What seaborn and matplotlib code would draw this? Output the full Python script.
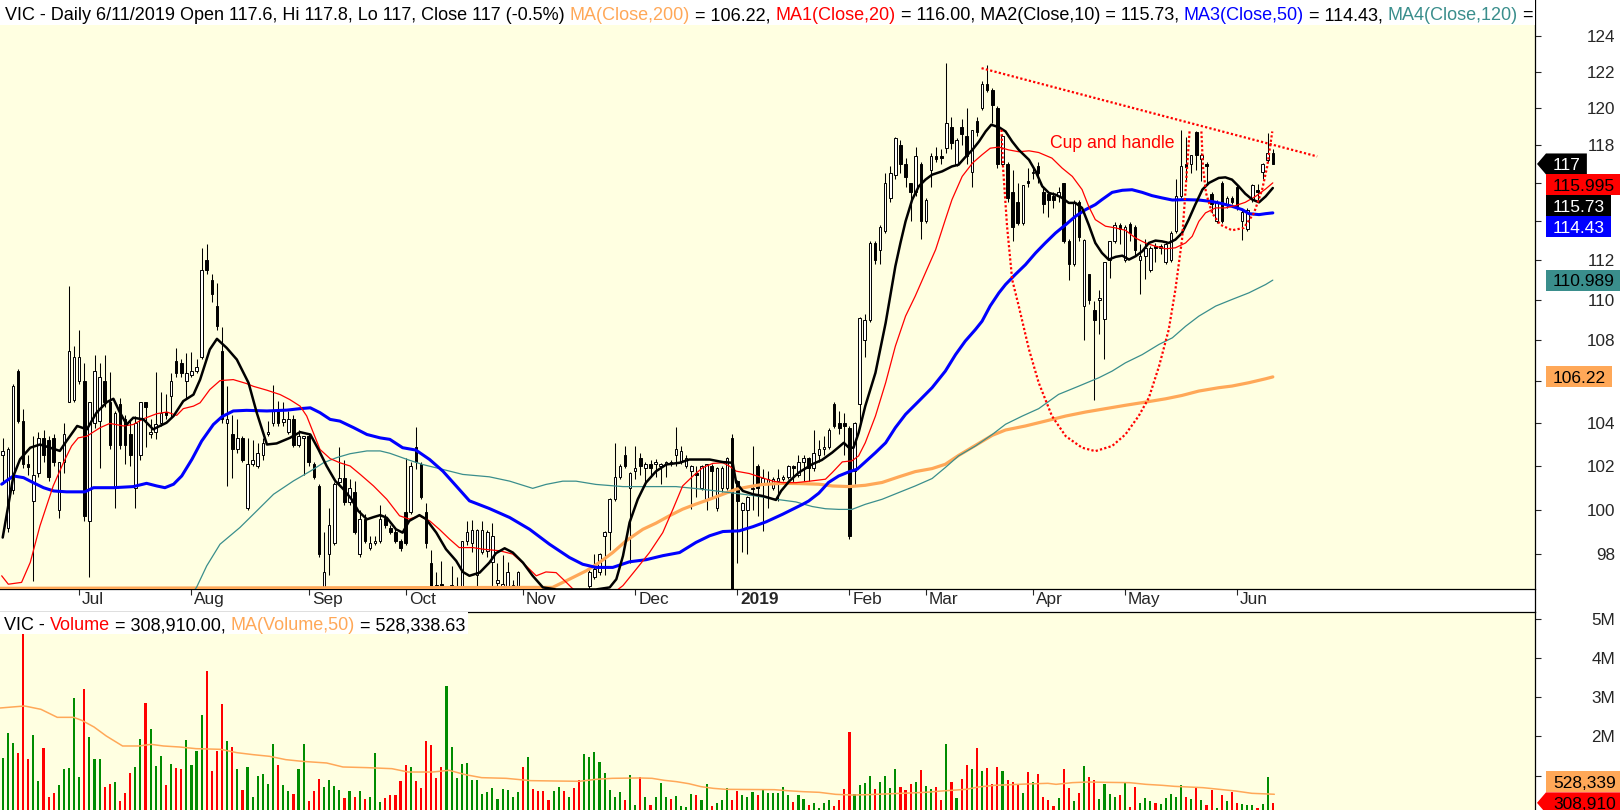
import numpy as np
import pandas as pd
import seaborn as sns
import matplotlib.pyplot as plt
from matplotlib.patches import Rectangle, Polygon
from matplotlib.lines import Line2D
from matplotlib.ticker import NullLocator, NullFormatter
import matplotlib.transforms as mtransforms

sns.set_style('white')
plt.rcParams['font.family'] = ['Liberation Sans', 'DejaVu Sans']

# ---------------- data (VIC daily, Jun 2018 - Jun 11 2019) ----------------
opens = [
    102.5, 99.2, 100.9, 106.5, 104.1, 102.1, 100.4, 101.7, 103.3, 103.2,
    103.3, 100.0, 102.2, 105.0, 105.1, 106.0, 106.0, 99.5, 104.0, 104.1,
    106.0, 105.0, 101.0, 104.9, 104.2, 103.5, 101.0, 102.5, 105.0, 103.5,
    103.6, 104.0, 104.55, 105.3, 107.0, 106.9, 106.0, 106.3, 106.5, 107.2,
    112.0, 111.0, 109.7, 107.5, 104.0, 103.5, 102.8, 103.3, 100.1, 102.1,
    102.0, 102.5, 103.5, 104.0, 104.6, 104.05, 103.6, 104.2, 103.0, 103.3,
    103.4, 102.1, 101.1, 96.5, 98.0, 98.5, 101.25, 101.45, 100.35, 100.8,
    98.0, 99.6, 98.3, 98.5, 98.6, 99.65, 99.2, 99.0, 98.6, 99.9,
    99.9, 102.9, 102.1, 99.9, 97.6, 96.65, 96.7, 96.2, 96.6, 96.55,
    96.6, 98.6, 98.5, 97.1, 98.1, 98.15, 97.65, 96.75, 96.6, 96.6,
    96.5, 96.6, 96.2, 95.6, 96.0, 95.5, 95.3, 95.0, 94.8, 95.0,
    95.4, 95.1, 95.3, 95.0, 94.8, 96.6, 97.0, 97.2, 98.8, 99.0,
    100.5, 101.5, 102.5, 101.0, 101.8, 102.4, 101.9, 102.1, 102.1, 102.0,
    102.1, 102.2, 102.5, 102.25, 102.0, 101.8, 101.7, 101.0, 100.5, 102.0,
    100.1, 101.0, 101.0, 103.3, 101.3, 100.0, 100.0, 100.95, 102.0, 101.2,
    101.2, 101.0, 101.3, 101.4, 101.5, 102.0, 101.6, 102.2, 102.4, 101.9,
    102.5, 102.8, 102.9, 104.9, 104.0, 104.0, 103.8, 101.8, 104.9, 108.0,
    109.0, 112.9, 112.5, 113.5, 115.2, 116.4, 118.0, 117.0, 116.0, 115.5,
    117.0, 114.0, 116.7, 117.4, 117.4, 117.85, 119.0, 117.0, 119.0, 118.5,
    116.6, 119.3, 120.0, 121.3, 121.0, 120.0, 117.0, 117.0, 115.5, 115.0,
    113.9, 116.1, 116.5, 116.9, 115.5, 115.4, 115.3, 115.3, 116.0, 113.0,
    111.8, 115.0, 109.7, 111.3, 109.5, 110.0, 109.05, 112.0, 113.0, 113.8,
    112.0, 113.85, 113.7, 112.0, 112.2, 111.5, 112.7, 112.6, 111.9, 112.0,
    113.5, 115.3, 117.0, 117.0, 118.7, 117.25, 117.0, 115.4, 114.0, 116.0,
    114.9, 115.2, 115.8, 114.0, 113.6, 115.15, 115.6, 116.6, 117.2, 117.6]
highs = [
    103.3, 102.9, 105.9, 106.6, 104.7, 102.5, 103.4, 103.6, 103.7, 103.4,
    103.5, 102.2, 104.0, 110.7, 107.7, 108.5, 106.9, 105.0, 107.3, 106.9,
    107.3, 106.45, 104.6, 105.2, 104.4, 104.2, 104.35, 105.0, 105.0, 104.2,
    106.45, 105.5, 105.4, 106.4, 107.6, 107.1, 107.4, 107.45, 107.1, 112.6,
    112.8, 111.3, 110.85, 108.66, 105.8, 104.4, 104.2, 103.4, 103.3, 103.2,
    103.1, 103.3, 104.1, 105.85, 105.05, 105.0, 104.6, 104.4, 103.7, 103.4,
    103.5, 102.2, 101.2, 99.0, 100.1, 101.25, 102.9, 102.3, 101.4, 101.3,
    100.0, 99.8, 98.8, 98.8, 100.2, 99.8, 99.3, 99.2, 98.7, 102.4,
    102.2, 103.84, 102.2, 100.3, 98.2, 97.2, 97.7, 96.45, 97.5, 97.0,
    98.6, 99.5, 99.55, 99.15, 99.5, 99.1, 99.4, 97.6, 97.95, 97.65,
    96.85, 97.25, 96.4, 96.2, 96.1, 95.7, 95.5, 95.2, 95.3, 95.6,
    95.6, 95.5, 95.4, 95.2, 96.2, 97.3, 98.0, 98.05, 99.05, 100.55,
    103.1, 102.1, 102.95, 101.75, 102.95, 102.6, 102.2, 102.3, 102.35, 102.15,
    102.25, 102.3, 103.84, 102.95, 102.5, 102.05, 102.0, 102.05, 102.1, 102.1,
    101.95, 102.0, 102.45, 103.5, 101.35, 100.35, 100.65, 102.95, 102.1, 101.85,
    101.8, 101.5, 101.85, 101.6, 102.05, 102.05, 102.5, 102.5, 102.45, 103.7,
    103.2, 103.4, 103.8, 105.0, 104.6, 104.5, 103.9, 104.05, 109.15, 109.3,
    113.0, 113.0, 113.8, 116.5, 116.9, 118.45, 118.3, 117.3, 116.0, 117.9,
    117.1, 115.2, 117.6, 117.9, 117.8, 122.5, 119.5, 118.4, 119.4, 120.0,
    118.8, 119.5, 121.5, 122.4, 121.1, 120.1, 118.6, 117.1, 116.7, 116.0,
    115.9, 116.8, 116.8, 117.1, 115.8, 115.4, 115.5, 115.8, 116.0, 113.1,
    115.1, 115.1, 113.1, 111.3, 109.95, 110.5, 111.9, 113.0, 113.95, 113.9,
    113.8, 113.95, 113.8, 112.8, 113.1, 112.7, 112.9, 112.8, 113.0, 113.5,
    116.2, 118.8, 118.45, 117.5, 118.75, 117.6, 117.1, 115.5, 115.1, 116.1,
    115.3, 115.3, 115.9, 114.6, 114.7, 115.95, 115.95, 117.05, 118.65, 117.8]
lows = [
    101.2, 99.0, 100.7, 104.0, 101.9, 101.6, 96.8, 101.5, 102.2, 101.3,
    102.0, 99.65, 101.7, 105.0, 105.0, 105.9, 99.5, 97.0, 103.8, 101.9,
    104.8, 102.8, 100.1, 102.8, 102.1, 102.0, 100.1, 102.3, 102.9, 103.3,
    103.25, 103.9, 104.2, 104.3, 106.2, 106.2, 105.2, 106.2, 106.4, 107.1,
    111.3, 109.9, 108.5, 104.0, 101.1, 101.45, 102.6, 102.2, 100.0, 102.0,
    101.9, 102.3, 103.4, 103.9, 103.9, 103.9, 103.5, 102.9, 102.9, 101.6,
    102.0, 101.4, 97.9, 96.4, 97.1, 98.4, 101.2, 100.2, 100.2, 98.9,
    97.9, 98.5, 98.2, 98.4, 98.5, 99.2, 98.9, 98.5, 98.15, 98.4,
    99.8, 101.85, 100.5, 98.3, 96.5, 96.5, 96.4, 96.0, 96.4, 96.4,
    96.4, 98.4, 98.1, 96.6, 98.0, 97.9, 96.6, 96.5, 96.4, 96.4,
    96.4, 96.4, 95.6, 95.4, 95.3, 95.0, 94.8, 94.6, 94.6, 94.9,
    94.9, 95.0, 94.8, 94.5, 94.7, 96.4, 96.9, 97.1, 97.1, 98.2,
    100.4, 101.4, 101.9, 97.6, 101.4, 101.6, 101.1, 101.5, 101.5, 101.2,
    101.5, 102.0, 102.0, 102.1, 101.9, 100.05, 100.6, 100.9, 100.0, 100.6,
    99.95, 100.8, 100.9, 96.0, 97.6, 98.1, 98.0, 100.0, 99.7, 99.05,
    100.1, 100.9, 100.4, 101.3, 101.4, 101.2, 101.5, 101.3, 101.3, 101.8,
    102.2, 102.5, 102.8, 103.8, 103.5, 102.5, 98.7, 101.2, 104.0, 107.2,
    108.9, 111.8, 111.8, 113.4, 115.0, 116.2, 116.5, 115.8, 114.0, 115.3,
    113.1, 113.9, 115.8, 117.1, 117.0, 117.6, 117.8, 116.9, 118.0, 117.0,
    115.8, 118.5, 119.9, 120.9, 119.2, 116.8, 116.9, 115.0, 113.0, 113.8,
    113.8, 115.8, 116.2, 116.0, 114.4, 114.2, 114.7, 115.0, 112.9, 111.0,
    111.7, 113.0, 108.0, 109.8, 105.1, 108.3, 107.1, 111.1, 112.9, 112.8,
    111.9, 113.0, 112.2, 110.3, 111.05, 111.4, 111.9, 112.3, 111.8, 111.9,
    113.4, 115.2, 116.15, 116.5, 116.7, 116.1, 115.9, 114.4, 113.9, 113.9,
    114.7, 114.9, 114.6, 113.05, 113.5, 115.0, 115.1, 116.2, 117.1, 117.0]
closes = [
    102.7, 102.8, 105.8, 104.1, 102.1, 101.95, 101.6, 103.3, 102.5, 101.5,
    102.2, 102.2, 103.5, 107.5, 107.2, 107.2, 99.7, 105.0, 106.5, 106.2,
    105.0, 103.0, 104.5, 103.0, 103.0, 102.5, 104.0, 105.0, 104.8, 103.6,
    103.95, 104.5, 104.4, 106.0, 106.4, 106.4, 106.4, 106.5, 106.7, 111.5,
    111.5, 110.3, 108.7, 104.2, 104.2, 102.8, 103.3, 102.3, 102.1, 102.3,
    102.6, 103.1, 103.6, 104.6, 104.0, 104.2, 104.2, 103.0, 103.4, 103.4,
    102.2, 101.5, 98.0, 97.2, 99.3, 101.2, 101.45, 100.35, 101.0, 99.0,
    99.6, 98.6, 98.5, 98.6, 99.6, 99.3, 99.0, 98.6, 98.3, 98.5,
    102.0, 102.2, 100.6, 98.5, 96.6, 96.6, 96.6, 96.35, 96.65, 96.6,
    98.6, 99.0, 99.1, 99.1, 99.1, 99.0, 98.8, 96.85, 96.7, 97.2,
    96.65, 97.2, 95.8, 96.0, 95.5, 95.2, 95.0, 94.8, 95.1, 95.4,
    95.1, 95.3, 95.0, 94.7, 96.0, 97.2, 97.35, 98.0, 99.0, 100.5,
    101.5, 102.0, 102.0, 101.7, 101.9, 102.0, 102.1, 101.9, 102.2, 102.1,
    102.2, 102.15, 102.8, 102.7, 102.4, 102.0, 101.6, 102.0, 102.1, 101.8,
    101.9, 101.9, 102.4, 96.3, 100.4, 100.3, 100.6, 101.0, 101.0, 101.45,
    101.4, 101.4, 101.45, 101.5, 102.0, 101.9, 102.2, 102.4, 101.9, 102.6,
    102.8, 102.9, 103.7, 103.9, 103.8, 103.9, 98.8, 104.0, 109.1, 109.0,
    112.9, 112.0, 113.7, 116.0, 116.5, 118.4, 117.0, 116.3, 115.5, 117.4,
    114.0, 115.1, 117.4, 117.25, 117.3, 119.2, 118.1, 118.3, 118.6, 117.4,
    118.8, 118.7, 121.3, 121.0, 120.2, 117.0, 118.5, 115.2, 113.7, 113.9,
    115.9, 116.0, 116.6, 116.5, 114.9, 115.1, 115.1, 115.5, 113.0, 111.8,
    115.0, 113.2, 113.05, 110.0, 109.0, 110.1, 111.9, 113.0, 113.8, 113.6,
    113.7, 113.4, 112.5, 112.2, 112.6, 112.6, 112.6, 112.7, 112.85, 113.4,
    115.3, 116.9, 116.85, 117.5, 117.5, 117.5, 116.9, 114.9, 115.0, 114.0,
    115.2, 115.0, 114.8, 114.5, 114.6, 115.9, 115.5, 117.0, 117.6, 117.0]
volume_m = [
    1.452, 2.089, 1.834, 1.579, 4.620, 1.435, 2.030, 0.866, 1.707, 0.458,
    0.560, 0.764, 1.180, 1.206, 2.981, 0.977, 3.210, 1.987, 1.427, 1.427,
    0.713, 0.790, 0.841, 0.356, 0.560, 1.070, 1.231, 1.936, 2.853, 2.191,
    1.248, 1.503, 0.764, 1.299, 1.197, 1.180, 1.911, 1.274, 1.639, 2.548,
    3.669, 1.121, 1.630, 2.828, 1.885, 1.732, 1.172, 0.637, 1.214, 0.458,
    0.993, 1.044, 0.790, 1.809, 1.274, 0.764, 0.611, 0.535, 1.172, 1.809,
    0.356, 0.611, 0.917, 0.713, 0.892, 0.739, 0.637, 0.433, 0.611, 0.458,
    0.611, 0.407, 0.458, 1.579, 0.331, 0.433, 0.509, 0.509, 0.866, 1.274,
    1.223, 0.866, 0.688, 1.885, 1.783, 0.951, 1.223, 3.287, 1.732, 0.942,
    1.299, 1.325, 0.900, 0.900, 0.535, 0.586, 0.688, 0.407, 0.662, 0.637,
    0.458, 0.586, 1.223, 1.478, 0.662, 0.611, 0.611, 0.382, 0.611, 0.713,
    0.611, 0.458, 0.688, 0.892, 1.554, 1.478, 1.605, 1.350, 1.070, 0.637,
    0.458, 0.586, 0.382, 1.019, 0.255, 0.968, 0.458, 0.255, 0.458, 0.815,
    0.458, 0.407, 0.484, 0.229, 0.204, 0.535, 0.509, 0.382, 0.790, 0.229,
    0.306, 0.382, 0.688, 0.382, 0.611, 0.509, 0.458, 0.586, 0.509, 0.662,
    0.560, 0.560, 0.560, 0.713, 0.509, 0.331, 0.509, 0.407, 0.255, 0.306,
    0.178, 0.306, 0.382, 0.229, 0.382, 0.662, 2.115, 0.535, 0.764, 0.815,
    0.993, 0.662, 0.841, 0.993, 0.688, 1.172, 0.713, 0.637, 0.790, 0.841,
    1.146, 0.739, 0.662, 0.713, 0.382, 1.809, 0.841, 0.433, 0.917, 1.274,
    1.172, 1.707, 1.121, 1.197, 0.790, 1.223, 1.121, 0.892, 0.841, 0.764,
    0.560, 1.095, 0.841, 1.044, 0.458, 0.382, 0.229, 0.433, 1.172, 0.688,
    0.356, 0.560, 1.248, 0.968, 0.892, 0.407, 0.790, 0.535, 0.458, 0.509,
    0.841, 0.204, 0.713, 0.306, 0.433, 0.356, 0.306, 0.280, 0.433, 0.535,
    0.458, 0.764, 0.458, 0.407, 0.713, 0.382, 0.255, 0.637, 0.178, 0.509,
    0.356, 0.586, 0.306, 0.280, 0.255, 0.255, 0.178, 0.280, 0.968, 0.309]

# moving averages as (bar, value)
ma10 = [(0, 98.75), (2.1, 101.55), (3.4, 102.32), (5.4, 102.86), (7.3, 103.01), (9.3, 102.86),
        (11.2, 102.71), (12.5, 103.17), (14.6, 103.88), (16.5, 103.72), (18.4, 104.51), (20.4, 105.01),
        (21.7, 105.17), (23.0, 104.51), (24.3, 103.95), (25.6, 104.27), (27.6, 104.19), (29.5, 103.72),
        (30.8, 103.88), (32.1, 104.03), (33.5, 104.35), (35.4, 105.06), (37.4, 105.37), (38.7, 106.09),
        (40.6, 107.55), (42.0, 108.07), (43.9, 107.63), (45.9, 107.06), (48.2, 105.93), (49.8, 104.51),
        (51.8, 103.01), (53.7, 103.06), (56.3, 103.32), (58.3, 103.59), (60.3, 103.48), (61.9, 102.78),
        (63.5, 102.01), (65.2, 101.32), (66.8, 100.94), (68.4, 100.48), (69.7, 99.95), (71.4, 99.57),
        (72.7, 99.67), (74.0, 99.76), (75.3, 99.64), (77.1, 99.12), (78.4, 98.97), (79.7, 99.50),
        (81.7, 99.76), (83.0, 99.58), (85.0, 98.97), (86.9, 98.23), (88.9, 97.71), (90.2, 97.22),
        (91.5, 97.05), (93.5, 97.19), (95.4, 97.63), (96.7, 98.05), (98.4, 98.27), (100.0, 98.08),
        (102.0, 97.63), (103.9, 97.05), (105.9, 96.54), (108.5, 96.45), (112.4, 96.45), (116.3, 96.45),
        (119.0, 96.54), (120.3, 96.90), (121.6, 97.93), (122.9, 99.43), (124.5, 100.48), (126.1, 101.24),
        (128.1, 101.77), (130.1, 102.08), (132.7, 102.16), (134.6, 102.31), (138.6, 102.31), (141.2, 102.19),
        (143.1, 102.16), (143.8, 101.24), (145.1, 100.86), (147.1, 100.71), (149.0, 100.63), (151.6, 100.45),
        (152.6, 100.86), (154.2, 101.31), (156.1, 101.71), (158.7, 102.09), (160.6, 102.29), (162.6, 102.63),
        (164.9, 103.09), (165.9, 102.86), (166.8, 102.86), (167.8, 103.56), (169.1, 104.82), (171.1, 106.42),
        (173.1, 108.86), (175.0, 111.69), (176.0, 112.88), (177.0, 113.99), (178.3, 115.12), (179.6, 115.82),
        (180.9, 116.17), (182.2, 116.43), (184.2, 116.61), (186.1, 116.87), (187.4, 116.96), (188.7, 117.36),
        (190.1, 117.75), (191.4, 118.20), (192.7, 118.74), (193.8, 119.10), (195.3, 118.97), (196.6, 118.74),
        (197.9, 118.20), (199.2, 117.75), (201.2, 117.22), (202.5, 116.61), (203.8, 115.82), (205.1, 115.47),
        (206.4, 115.38), (207.7, 115.21), (209.0, 114.95), (210.3, 114.95), (211.6, 114.69), (212.9, 113.82),
        (214.2, 112.88), (215.5, 112.37), (216.8, 112.03), (218.2, 112.17), (219.5, 112.23), (220.8, 112.03),
        (222.1, 112.20), (223.4, 112.45), (224.7, 112.88), (226.0, 113.00), (227.3, 112.96), (228.6, 112.88),
        (229.9, 113.05), (231.2, 113.39), (232.5, 114.08), (233.8, 114.86), (235.2, 115.65), (236.5, 116.00),
        (238.4, 116.26), (239.7, 116.29), (241.0, 116.17), (242.3, 115.82), (243.6, 115.43), (245.0, 115.12),
        (246.3, 114.98), (247.6, 115.29), (249.0, 115.73)]
ma20 = [(-0.2, 97.05), (1.1, 96.68), (3.7, 96.76), (5.4, 97.64), (7.3, 99.27), (9.9, 101.09),
        (11.9, 102.16), (13.5, 102.94), (14.8, 103.32), (16.5, 103.40), (19.1, 103.80), (21.0, 104.00),
        (23.7, 103.88), (25.6, 103.95), (27.6, 104.22), (30.2, 104.46), (32.2, 104.54), (34.1, 104.38),
        (35.4, 104.70), (37.4, 104.82), (38.7, 104.98), (40.6, 105.61), (42.6, 106.04), (45.2, 106.09),
        (47.8, 105.90), (49.1, 105.77), (51.8, 105.58), (54.4, 105.37), (56.3, 105.13), (58.3, 104.82),
        (59.6, 104.35), (60.9, 103.56), (62.2, 102.78), (64.2, 102.35), (66.1, 102.16), (68.1, 102.01),
        (70.1, 101.62), (72.7, 101.09), (75.3, 100.48), (77.8, 99.73), (79.7, 99.58), (81.7, 99.73),
        (83.7, 99.50), (85.6, 99.12), (87.6, 98.68), (89.5, 98.30), (92.2, 98.30), (94.1, 98.23),
        (97.4, 98.16), (100.0, 98.01), (102.6, 97.49), (104.6, 97.05), (106.5, 97.22), (108.5, 97.19),
        (110.5, 96.76), (111.8, 96.47), (115.0, 95.90), (118.3, 96.05), (121.6, 96.62), (124.2, 97.34),
        (126.8, 98.08), (129.4, 98.97), (131.4, 100.03), (133.3, 101.09), (135.3, 101.54), (137.2, 101.93),
        (139.2, 102.13), (141.2, 102.16), (142.5, 102.00), (143.8, 101.77), (146.4, 101.66), (149.0, 101.46),
        (151.0, 101.31), (152.9, 101.24), (155.5, 101.24), (158.2, 101.31), (161.3, 101.40), (162.6, 101.70),
        (164.6, 102.20), (166.5, 102.25), (167.8, 102.48), (169.1, 103.09), (171.1, 104.35), (173.1, 105.94),
        (175.0, 107.71), (177.0, 109.19), (178.9, 110.19), (180.9, 111.36), (182.9, 112.54), (184.8, 114.08),
        (186.1, 115.12), (188.1, 116.34), (190.1, 117.04), (192.0, 117.49), (193.6, 117.84), (195.3, 117.90),
        (197.2, 117.75), (199.2, 117.65), (201.2, 117.70), (203.1, 117.61), (205.7, 117.31), (207.7, 116.78),
        (209.7, 116.34), (211.6, 115.65), (212.9, 114.77), (214.2, 114.08), (216.2, 113.74), (218.2, 113.65),
        (220.1, 113.53), (222.1, 113.13), (224.0, 112.88), (226.0, 112.71), (228.0, 112.58), (229.9, 112.63),
        (231.9, 112.88), (233.2, 113.22), (234.5, 113.99), (235.8, 114.43), (237.8, 114.69), (239.7, 114.69),
        (241.7, 114.81), (243.6, 114.98), (245.6, 115.29), (247.6, 115.68), (249.0, 116.00)]
ma50 = [(-0.2, 101.17), (2.1, 101.55), (4.1, 101.47), (6.0, 101.24), (8.0, 101.01), (10.0, 100.86),
        (12.5, 100.82), (16.1, 100.82), (17.8, 101.01), (21.7, 101.01), (25.6, 101.06), (28.2, 101.21),
        (30.2, 101.09), (31.8, 101.01), (33.5, 101.17), (35.1, 101.55), (37.1, 102.32), (39.0, 103.17),
        (41.3, 103.95), (43.0, 104.32), (45.2, 104.59), (47.8, 104.62), (51.8, 104.59), (55.7, 104.63),
        (58.3, 104.70), (60.3, 104.74), (62.2, 104.51), (64.2, 104.19), (66.1, 104.11), (68.8, 103.80),
        (71.4, 103.48), (74.0, 103.32), (75.9, 103.25), (78.4, 102.86), (81.0, 102.75), (83.7, 102.31),
        (86.3, 101.77), (88.9, 101.09), (91.5, 100.41), (95.4, 100.06), (99.4, 99.65), (103.3, 99.12),
        (107.2, 98.45), (111.1, 97.86), (113.7, 97.56), (116.3, 97.42), (119.6, 97.42), (122.9, 97.67),
        (126.1, 97.76), (129.4, 97.94), (132.7, 98.08), (135.9, 98.53), (138.6, 98.83), (141.2, 99.02),
        (144.4, 99.05), (147.1, 99.24), (149.7, 99.46), (152.9, 99.80), (156.9, 100.26), (158.0, 100.40),
        (160.0, 100.76), (161.9, 101.25), (163.9, 101.55), (165.9, 101.74), (167.5, 101.86), (169.1, 102.20),
        (171.1, 102.63), (173.1, 103.09), (175.0, 103.80), (177.0, 104.43), (179.6, 105.06), (182.2, 105.70),
        (184.8, 106.50), (186.8, 107.30), (188.7, 107.96), (190.7, 108.53), (192.0, 108.94), (193.6, 109.70),
        (195.3, 110.35), (196.6, 110.77), (198.5, 111.27), (200.5, 111.77), (202.5, 112.37), (204.4, 112.88),
        (206.4, 113.39), (208.4, 113.82), (210.3, 114.25), (212.3, 114.60), (214.2, 114.86), (215.5, 115.12),
        (217.5, 115.50), (219.5, 115.61), (221.4, 115.64), (223.4, 115.50), (225.3, 115.33), (227.3, 115.21),
        (229.3, 115.10), (231.9, 115.12), (234.5, 115.10), (237.1, 115.02), (239.1, 114.91), (241.0, 114.77),
        (243.0, 114.60), (244.3, 114.39), (246.3, 114.34), (247.6, 114.39), (249.0, 114.43)]
ma120 = [(36.5, 96.10), (38.0, 96.54), (40.0, 97.49), (42.6, 98.45), (46.5, 99.20), (49.8, 99.95),
         (53.1, 100.71), (57.0, 101.32), (60.3, 101.77), (62.9, 102.16), (65.5, 102.40), (68.1, 102.58),
         (71.4, 102.71), (74.0, 102.71), (75.9, 102.60), (79.7, 102.28), (82.3, 102.08), (86.3, 101.85),
         (90.2, 101.62), (95.4, 101.51), (99.4, 101.31), (103.9, 100.98), (106.5, 101.16), (109.8, 101.31),
         (112.4, 101.31), (116.3, 101.16), (121.6, 101.06), (128.1, 101.06), (132.0, 101.06), (135.9, 100.97),
         (139.9, 100.86), (143.8, 100.75), (147.7, 100.63), (151.6, 100.48), (155.5, 100.36), (158.7, 100.15),
         (161.3, 100.05), (163.9, 100.02), (166.5, 100.02), (169.1, 100.25), (172.4, 100.48), (175.7, 100.79),
         (178.9, 101.09), (182.2, 101.43), (184.8, 101.94), (187.4, 102.48), (190.7, 102.94), (194.0, 103.48),
         (196.6, 103.96), (199.9, 104.35), (203.1, 104.70), (207.0, 105.38), (211.0, 105.78), (214.9, 106.18),
         (217.5, 106.50), (220.1, 106.90), (223.4, 107.30), (226.7, 107.80), (229.3, 108.12), (231.9, 108.69),
         (234.5, 109.19), (237.8, 109.69), (241.0, 110.02), (244.3, 110.35), (247.6, 110.77), (249.0, 110.99)]
ma200 = [(-1.0, 96.50), (107.8, 96.54), (111.1, 96.90), (114.4, 97.27), (117.0, 97.64), (119.6, 98.08),
         (122.2, 98.60), (125.5, 99.12), (128.1, 99.40), (130.7, 99.73), (133.3, 100.03), (135.9, 100.26),
         (138.6, 100.48), (141.2, 100.71), (143.8, 100.94), (146.4, 101.06), (149.0, 101.16), (152.9, 101.21),
         (156.1, 101.20), (160.0, 101.17), (162.6, 101.09), (165.9, 101.06), (169.1, 101.12), (172.4, 101.25),
         (175.7, 101.51), (178.9, 101.75), (182.2, 101.89), (184.8, 102.09), (187.4, 102.50), (190.7, 102.97),
         (194.0, 103.44), (196.6, 103.69), (200.5, 103.88), (204.4, 104.11), (208.4, 104.35), (212.3, 104.54),
         (216.2, 104.70), (220.1, 104.86), (224.0, 105.01), (228.0, 105.17), (231.2, 105.33), (234.5, 105.54),
         (238.4, 105.70), (241.0, 105.78), (244.3, 105.94), (247.6, 106.13), (249.0, 106.22)]
vol_ma50 = [(-0.5, 2.726), (1.9, 2.752), (4.3, 2.777), (7.5, 2.692), (10.7, 2.488), (13.9, 2.488),
            (15.5, 2.412), (17.9, 2.242), (20.3, 2.013), (23.5, 1.758), (26.7, 1.758), (29.1, 1.800),
            (31.5, 1.758), (34.7, 1.732), (37.9, 1.690), (42.7, 1.673), (45.9, 1.588), (49.1, 1.537),
            (52.3, 1.495), (55.5, 1.410), (58.7, 1.367), (63.5, 1.325), (66.7, 1.223), (71.5, 1.206),
            (76.3, 1.180), (79.5, 1.095), (84.3, 1.095), (87.5, 1.138), (90.7, 1.028), (93.9, 0.951),
            (98.7, 0.934), (103.5, 0.875), (108.3, 0.866), (113.1, 0.858), (116.3, 0.909), (119.5, 0.934),
            (124.9, 0.943), (127.3, 0.934), (129.7, 0.883), (132.1, 0.849), (134.5, 0.798), (136.9, 0.722),
            (139.3, 0.679), (141.7, 0.654), (151.3, 0.645), (153.7, 0.620), (156.9, 0.594), (160.1, 0.577),
            (163.3, 0.526), (166.5, 0.509), (169.7, 0.518), (174.5, 0.543), (180.9, 0.577), (184.1, 0.611),
            (188.9, 0.654), (191.3, 0.713), (194.5, 0.756), (200.9, 0.790), (204.9, 0.807), (206.5, 0.781),
            (209.7, 0.824), (212.9, 0.841), (216.1, 0.832), (220.9, 0.824), (224.1, 0.781), (227.3, 0.756),
            (229.7, 0.730), (235.3, 0.696), (238.5, 0.654), (241.7, 0.611), (244.9, 0.552), (249.3, 0.528)]

# hand-drawn annotations (bar, price)
trend_line = [(191.9, 122.2), (257.7, 117.4)]
cup_curve = [(195.8, 118.83), (196.1, 116.87), (196.9, 113.73), (197.9, 111.02), (199.2, 109.68),
             (201.2, 107.55), (203.1, 105.94), (205.7, 104.35), (208.4, 103.40), (211.6, 102.86),
             (214.2, 102.70), (217.5, 102.94), (220.1, 103.48), (222.7, 104.35), (224.7, 105.22),
             (226.7, 106.74), (228.6, 108.53), (229.9, 110.51), (231.2, 113.05), (231.9, 115.64),
             (232.7, 118.83)]
handle_curve = [(235.0, 118.74), (235.3, 116.87), (235.9, 115.47), (237.1, 114.42), (238.7, 113.82),
                (241.0, 113.53), (243.3, 113.65), (245.3, 114.42), (246.9, 115.64), (247.9, 116.87),
                (248.9, 118.74)]
cup_label = (217.6, 118.11, 'Cup and handle')

month_bars = [15, 37, 60, 79, 102, 124, 144, 166, 181, 202, 220, 242]
month_names = ['Jul', 'Aug', 'Sep', 'Oct', 'Nov', 'Dec', '2019', 'Feb', 'Mar', 'Apr', 'May', 'Jun']
price_ticks = [98, 100, 102, 104, 106, 108, 110, 112, 114, 116, 118, 120, 122, 124]
vol_ticks = [1, 2, 3, 4, 5]
# scale labels that sit fully under the last-value boxes
covered_price = [106, 114, 116]
covered_vol = [1]

last_close = 117.0
last_ma = {'ma200': 106.22, 'ma20': 115.995, 'ma10': 115.73, 'ma50': 114.43, 'ma120': 110.989}
last_volume = 0.30891
last_vol_ma = 0.528339

# ---------------- styling ----------------
W, H = 1620, 810
AX_R, P_BOT, V_TOP = 1535, 589, 612
BG = '#FFFFE1'
C200, C20, C10, C50, C120 = '#FFA858', '#FF0000', '#000000', '#0000FF', '#3A8E8C'
C_UP, C_DN = '#008C00', '#FF0000'
FS = 12.7
FS_HEAD = 13.0

fig = plt.figure(figsize=(W / 100, H / 100), dpi=100)
fig.patch.set_facecolor('white')
axp = fig.add_axes([0, 1 - P_BOT / H, AX_R / W, P_BOT / H])
axv = fig.add_axes([0, 0, AX_R / W, (H - V_TOP) / H])

o, hi, lo, c = map(np.array, (opens, highs, lows, closes))
bars = np.arange(len(c))
up = c >= o

axp.set_yscale('log')

# candlesticks
axp.vlines(bars, lo, hi, color='black', lw=0.75, zorder=2)
axp.bar(bars, np.maximum(np.abs(c - o), 0.03), bottom=np.minimum(o, c), width=0.5,
        color=np.where(up, 'white', 'black'), edgecolor='black', linewidth=0.7, zorder=3)

# moving averages
for pts, col, lw in [(ma200, C200, 2.3), (ma120, C120, 0.9), (ma50, C50, 2.2),
                     (ma20, C20, 0.9), (ma10, C10, 1.8)]:
    xs, ys = zip(*pts)
    sns.lineplot(x=list(xs), y=list(ys), color=col, lw=lw, ax=axp, estimator=None,
                 sort=False, errorbar=None, zorder=4)

# cup and handle sketch
for pts in (trend_line, cup_curve, handle_curve):
    xs, ys = zip(*pts)
    axp.plot(xs, ys, color='red', lw=1.6, ls=(0, (1, 1)), zorder=5)
axp.text(cup_label[0], cup_label[1], cup_label[2], color='red', fontsize=FS,
         ha='center', va='center', zorder=6)

# volume
vdf = pd.DataFrame({'bar': bars, 'vol': volume_m, 'dir': np.where(up, 'up', 'down')})
sns.barplot(data=vdf, x='bar', y='vol', hue='dir', palette={'up': C_UP, 'down': C_DN},
            native_scale=True, dodge=False, width=0.42, saturation=1, errorbar=None,
            legend=False, linewidth=0, ax=axv)
vx, vy = zip(*vol_ma50)
sns.lineplot(x=list(vx), y=list(vy), color=C200, lw=1.1, ax=axv, estimator=None, sort=False,
             errorbar=None, zorder=4)

# axes
for ax in (axp, axv):
    ax.set_facecolor(BG)
    ax.set_xlim(-0.53, 300.4)
    ax.set_xlabel('')
    ax.set_ylabel('')
    ax.spines['left'].set_visible(False)
    for s in ax.spines.values():
        s.set_color('black')
        s.set_linewidth(0.9)
axp.spines['top'].set_visible(False)
axv.spines['bottom'].set_visible(False)

axp.set_ylim(96.47, 126.04)
axp.set_yticks(price_ticks, labels=['' if t in covered_price else str(t) for t in price_ticks])
axp.yaxis.set_minor_locator(NullLocator())
axp.yaxis.set_minor_formatter(NullFormatter())
axv.set_ylim(0.127, 5.172)
axv.set_yticks(vol_ticks, labels=['' if t in covered_vol else f'{t}M' for t in vol_ticks])

for ax in (axp, axv):
    ax.tick_params(axis='y', which='major', direction='out', length=4, width=0.8, pad=53.6,
                   labelsize=12.3, right=True, left=False, labelright=True, labelleft=False)
    for t in ax.get_yticklabels():
        t.set_horizontalalignment('right')

axp.set_xticks(month_bars, labels=month_names)
axp.tick_params(axis='x', direction='out', length=4, width=0.8, pad=-1.5, labelsize=12.4,
                bottom=True, top=False)
shift = mtransforms.ScaledTranslation(3 / 100, 0, fig.dpi_scale_trans)
for t in axp.get_xticklabels():
    t.set_horizontalalignment('left')
    t.set_transform(t.get_transform() + shift)
    if t.get_text() == '2019':
        t.set_fontweight('bold')
axv.set_xticks([])

fig.add_artist(Line2D([AX_R / W] * 2, [1 - V_TOP / H, 1 - P_BOT / H],
                      transform=fig.transFigure, color='black', lw=0.9))

# headers
renderer = fig.canvas.get_renderer()


def text_width(s, size):
    t = fig.text(0, 0, s + '|', fontsize=size)
    w = t.get_window_extent(renderer).width
    t.remove()
    t = fig.text(0, 0, '|', fontsize=size)
    w -= t.get_window_extent(renderer).width
    t.remove()
    return w


def rich_text(x0, base, parts, clip_ax=None):
    full = ''
    for s, col in parts:
        lead = len(s) - len(s.lstrip())
        dx = text_width(full + s[:lead], FS_HEAD) if (full + s[:lead]) else 0
        t = fig.text((x0 + dx) / W, 1 - base / H, s.strip(), color=col, fontsize=FS_HEAD,
                     ha='left', va='baseline', zorder=6)
        if clip_ax is not None:
            t.set_clip_box(clip_ax.bbox)
            t.set_clip_on(True)
        full += s
    return x0 + text_width(full, FS_HEAD)


price_head = [('VIC - Daily 6/11/2019 Open 117.6, Hi 117.8, Lo 117, Close 117 (-0.5%) ', 'black'),
              ('MA(Close,200)', C200), (' = 106.22, ', 'black'), ('MA1(Close,20)', C20),
              (' = 116.00, MA2(Close,10) = 115.73, ', 'black'), ('MA3(Close,50)', C50),
              (' = 114.43, ', 'black'), ('MA4(Close,120)', C120), (' = 110.99', 'black')]
vol_head = [('VIC - ', 'black'), ('Volume', C_DN), (' = 308,910.00, ', 'black'),
            ('MA(Volume,50)', C200), (' = 528,338.63', 'black')]

fig.add_artist(Rectangle((0, 1 - 25 / H), AX_R / W, 25 / H, transform=fig.transFigure,
                         fc='white', ec='none', zorder=5))
rich_text(5, 20.5, price_head, clip_ax=axp)
end_x = rich_text(4, 630.5, vol_head)
fig.add_artist(Rectangle((0, 1 - 634 / H), (end_x + 3) / W, 22 / H, transform=fig.transFigure,
                         fc='white', ec='none', zorder=5))

# last-value boxes on the right scale
BOX_H = 21


def value_boxes(ax, items, push):
    prev = None
    for val, txt, fc, tc, arrow in items:
        yc = H - ax.transData.transform((0, val))[1]
        if prev is not None:
            yc = max(yc, prev + BOX_H) if push > 0 else min(yc, prev - BOX_H)
        prev = yc
        t = fig.text(1553 / W, 1 - (yc + 6.3) / H, txt, color=tc, fontsize=12.5,
                     ha='left', va='baseline', zorder=8)
        xr = 1553 + t.get_window_extent(renderer).width + 6
        pts = [(1546, yc - BOX_H / 2), (xr, yc - BOX_H / 2), (xr, yc + BOX_H / 2), (1546, yc + BOX_H / 2)]
        if arrow:
            pts.append((1537, yc))
        fig.add_artist(Polygon([(x / W, 1 - y / H) for x, y in pts], closed=True,
                               transform=fig.transFigure, fc=fc, ec='none', zorder=7))


value_boxes(axp, [(last_close, f'{last_close:g}', 'black', 'white', True),
                  (last_ma['ma20'], f"{last_ma['ma20']:g}", C20, 'black', False),
                  (last_ma['ma10'], f"{last_ma['ma10']:g}", 'black', 'white', False),
                  (last_ma['ma50'], f"{last_ma['ma50']:g}", C50, 'white', False),
                  (last_ma['ma120'], f"{last_ma['ma120']:g}", C120, 'black', False),
                  (last_ma['ma200'], f"{last_ma['ma200']:g}", C200, 'black', False)], push=1)
value_boxes(axv, [(last_volume, f'{round(last_volume * 1e6):,}', C_DN, 'black', True),
                  (last_vol_ma, f'{round(last_vol_ma * 1e6):,}', C200, 'black', False)], push=-1)

fig.savefig('out.png', dpi=100, facecolor='white')
